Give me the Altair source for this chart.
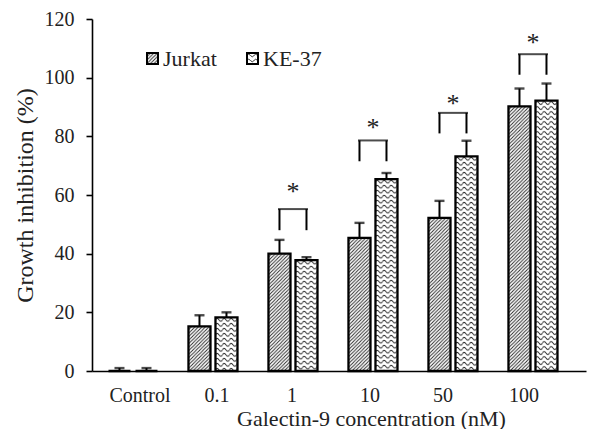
import base64
import altair as alt
import pandas as pd

# ---- data ----
groups = ["Control", "0.1", "1", "10", "50", "100"]
series = ["Jurkat", "KE-37"]
jurkat = [0, 15.2, 40.0, 45.4, 52.2, 90.2]
jurkat_err = [1.0, 3.8, 4.7, 5.1, 5.8, 6.1]
ke37 = [0, 18.3, 37.8, 65.4, 73.2, 92.2]
ke37_err = [1.0, 1.7, 1.0, 2.1, 5.3, 5.8]

sig_groups = ["1", "10", "50", "100"]
bracket_low = [48.0, 71.5, 81.0, 101.0]
bracket_high = [55.2, 78.6, 88.0, 108.0]
star_y = [62.0, 84.0, 92.0, 113.0]

FONT = "Liberation Serif"

# ---- fill patterns as small svg images ----
hatch_svg = (
    '<svg xmlns="http://www.w3.org/2000/svg">'
    '<defs><pattern id="p" width="3.5" height="3.5" patternUnits="userSpaceOnUse">'
    '<path d="M-1,1 L1,-1 M0,3.5 L3.5,0 M2.5,4.5 L4.5,2.5" stroke="#222" stroke-width="0.9"/>'
    '</pattern></defs>'
    '<rect width="100%" height="100%" fill="white"/>'
    '<rect width="100%" height="100%" fill="url(#p)"/></svg>'
)
wave_svg = (
    '<svg xmlns="http://www.w3.org/2000/svg">'
    '<defs><pattern id="w" width="7" height="5" patternUnits="userSpaceOnUse">'
    '<path d="M0,2.5 Q1.75,-0.2 3.5,2.5 T7,2.5" fill="none" stroke="#222" stroke-width="0.9"/>'
    '</pattern></defs>'
    '<rect width="100%" height="100%" fill="white"/>'
    '<rect width="100%" height="100%" fill="url(#w)"/></svg>'
)
hatch_url = "data:image/svg+xml;base64," + base64.b64encode(hatch_svg.encode()).decode()
wave_url = "data:image/svg+xml;base64," + base64.b64encode(wave_svg.encode()).decode()

rows = []
for i, g in enumerate(groups):
    rows.append({"group": g, "series": "Jurkat", "value": jurkat[i], "err": jurkat_err[i]})
    rows.append({"group": g, "series": "KE-37", "value": ke37[i], "err": ke37_err[i]})
df = pd.DataFrame(rows)
df["top"] = df["value"] + df["err"]

brows = []
for i, g in enumerate(sig_groups):
    for s in series:
        brows.append({"group": g, "series": s, "low": bracket_low[i], "high": bracket_high[i]})
bdf = pd.DataFrame(brows)
sdf = pd.DataFrame({"group": sig_groups, "star": star_y, "high": bracket_high})

url_expr = f"datum.series == 'Jurkat' ? '{hatch_url}' : '{wave_url}'"

label_shift = {"Control": 7, "0.1": 4, "1": -1, "10": -3, "50": -10, "100": -9}
label_offset = {
    "condition": [{"test": f"datum.value == '{k}'", "value": v} for k, v in label_shift.items()],
    "value": 0,
}

xscale = alt.Scale(domain=groups, paddingInner=0, paddingOuter=0.0875, align=0.07)
xaxis = alt.Axis(
    title="Galectin-9 concentration (nM)", ticks=False, labelAngle=0,
    labelPadding=14, labelOffset=label_offset,
    titleX=279, titleY=54, titleAnchor="middle", titleBaseline="alphabetic",
    titleFontSize=22,
)
yscale = alt.Scale(domain=[0, 120], nice=False)
yaxis = alt.Axis(title="Growth inhibition (%)", values=[0, 20, 40, 60, 80, 100, 120],
                 tickSize=6, labelPadding=12, titlePadding=7, grid=False, titleFontSize=24)

X = alt.X("group:N", sort=groups, scale=xscale, axis=xaxis)
XO = alt.XOffset("series:N", sort=series, scale=alt.Scale(paddingInner=0.185, paddingOuter=0.574))
Y = alt.Y("value:Q", scale=yscale, axis=yaxis)

base = alt.Chart(df)

fills = base.transform_calculate(url=url_expr).mark_image(aspect=False).encode(
    x=X, xOffset=XO, y=Y, y2=alt.datum(0), url="url:N"
)
outlines = base.mark_bar(filled=False, color="black", strokeWidth=2.3).encode(
    x=X, xOffset=XO, y=Y, y2=alt.datum(0)
)
err_rule = base.mark_rule(color="black", strokeWidth=2).encode(
    x=X, xOffset=XO, y="value:Q", y2="top:Q"
)
err_cap = base.mark_tick(color="black", size=10, thickness=2.4, orient="horizontal").encode(
    x=X, xOffset=XO, y="top:Q"
)

legs = alt.Chart(bdf).mark_rule(color="black", strokeWidth=2).encode(
    x=X, xOffset=XO, y="low:Q", y2="high:Q"
)
bar_top = alt.Chart(sdf).mark_tick(
    color="black", size=30, thickness=2, orient="horizontal"
).encode(x=X, y="high:Q")
stars = alt.Chart(sdf).mark_text(
    text="*", font=FONT, fontSize=26, color="#222", baseline="alphabetic", dy=11
).encode(x=X, y="star:Q")

# ---- legend ----
def legend_item(name, url, x0):
    d = pd.DataFrame({"series": [name]})
    img = alt.Chart(d).mark_image(aspect=False, url=url).encode(
        x=alt.value(x0), x2=alt.value(x0 + 11), y=alt.value(34), y2=alt.value(45)
    )
    box = alt.Chart(d).mark_rect(filled=False, color="black", strokeWidth=2).encode(
        x=alt.value(x0), x2=alt.value(x0 + 11), y=alt.value(34), y2=alt.value(45)
    )
    txt = alt.Chart(d).mark_text(align="left", baseline="middle", font=FONT, fontSize=22,
                                 color="#222").encode(
        x=alt.value(x0 + 16), y=alt.value(40), text="series:N"
    )
    return [img, box, txt]

legend_layers = legend_item("Jurkat", hatch_url, 55) + legend_item("KE-37", wave_url, 155)

chart = alt.layer(
    fills, outlines, err_rule, err_cap, legs, bar_top, stars, *legend_layers
).properties(
    width=494, height=352, autosize="none",
    padding={"left": 84, "top": 11, "right": 2, "bottom": 58},
).configure_view(strokeWidth=0).configure_axis(
    domainColor="black", domainWidth=1.6, tickColor="black", tickWidth=1.6,
    labelFont=FONT, labelFontSize=20, labelColor="#222",
    titleFont=FONT, titleFontWeight="normal", titleColor="#222",
)

chart.save("out.html", embed_options={"renderer": "svg", "actions": False})
